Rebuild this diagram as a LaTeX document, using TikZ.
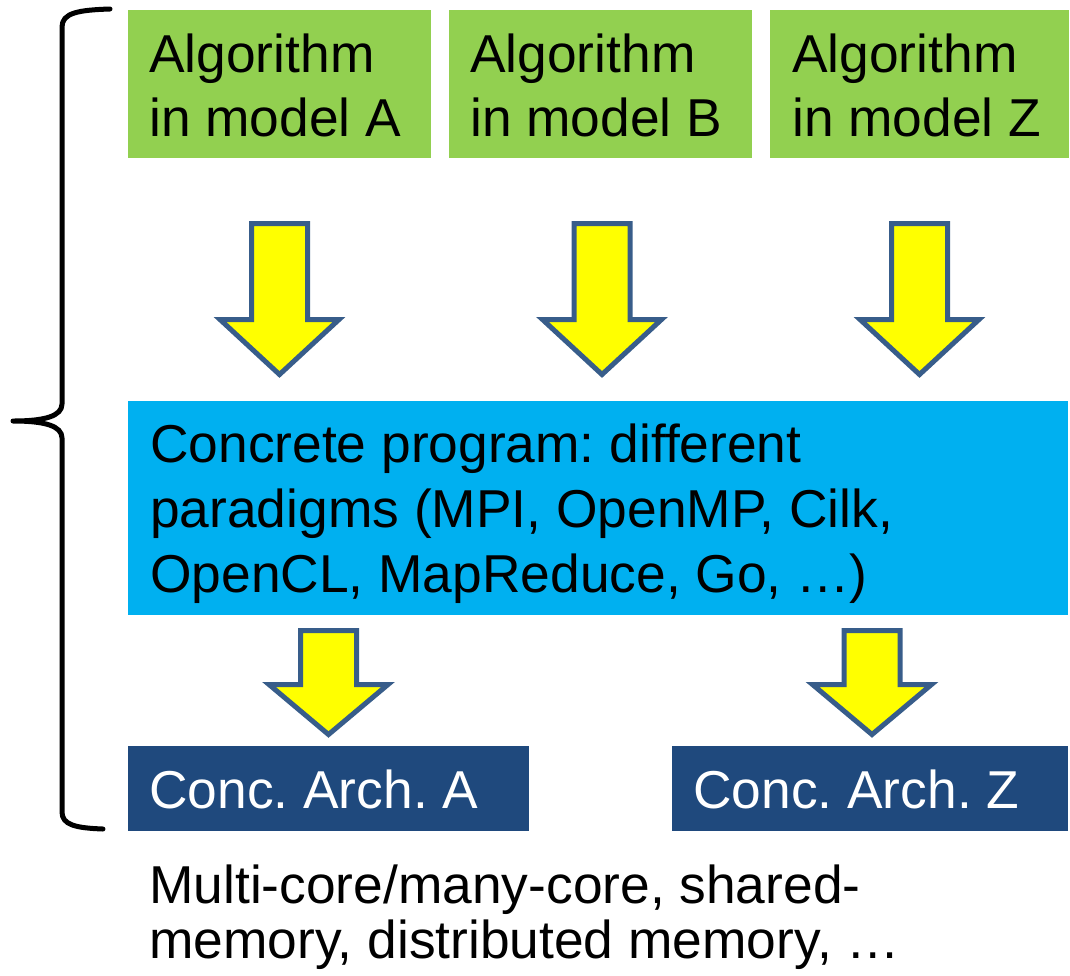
\documentclass[tikz,border=0pt]{standalone}
\usepackage{fontspec}
\setmainfont{Liberation Sans}
\frenchspacing
\usetikzlibrary{calc}
\definecolor{algo}{HTML}{92D050}
\definecolor{prog}{HTML}{00B0F0}
\definecolor{arch}{HTML}{1F497D}
\definecolor{arrfill}{HTML}{FFFF00}
\definecolor{arrline}{HTML}{385D8A}
\tikzset{
  box/.style={anchor=north west, inner sep=0pt, outer sep=0pt},
  algobox/.style={box, fill=algo, minimum width=227.25pt, minimum height=111pt},
  progbox/.style={box, fill=prog, minimum width=705pt, minimum height=160.5pt},
  archbox/.style={box, fill=arch, minimum height=63.75pt},
  txt/.style={anchor=base west, inner sep=0pt, align=left, font=\fontsize{40}{48}\selectfont},
  blk/.style={fill=arrfill, draw=arrline, line width=3.75pt, line join=miter},
  brace/.style={draw=black, line width=3.75pt, line cap=round, line join=round},
}
% block arrow: #1 top middle, #2 tip, #3 shaft length
\newcommand{\blockarrow}[3]{%
  \draw[blk] ($(#1)+(-28,0)$) -- ($(#1)+(28,0)$) -- ($(#1)+(28,#3)$) -- ($(#1)+(59.5,#3)$)
    -- (#2) -- ($(#1)+(-59.5,#3)$) -- ($(#1)+(-28,#3)$) -- cycle;
}

\begin{document}
\begin{tikzpicture}[x=0.75pt,y=-0.75pt]
  \useasboundingbox (0,0) rectangle (1070,975);
  % algorithms (base anchor sits on the last line)
  \node[algobox] (ga) at (128,10) {};
  \node[algobox] (gb) at (449,10) {};
  \node[algobox, minimum width=224.25pt] (gz) at (770,10) {};
  \node[txt] (ta) at ($(ga.north west)+(21,126)$) {Algorithm\\in model A};
  \node[txt] (tb) at ($(gb.north west)+(21,126)$) {Algorithm\\in model B};
  \node[txt] (tz) at ($(gz.north west)+(22,126)$) {Algorithm\\in model Z};
  % program
  \node[progbox] (prog) at (128,401) {};
  \node[txt, font=\fontsize{40}{48.75}\selectfont] (tp) at ($(prog.north west)+(22,191)$)
    {Concrete program: different\\paradigms (MPI, OpenMP, Cilk,\\OpenCL, MapReduce, Go, …)};
  % architectures
  \node[archbox, minimum width=300.75pt] (archA) at (128,746) {};
  \node[archbox, minimum width=297pt] (archZ) at (672,746) {};
  \node[txt, text=white] (tA) at ($(archA.north west)+(21,62)$) {Conc. Arch. A};
  \node[txt, text=white] (tZ) at ($(archZ.north west)+(21,62)$) {Conc. Arch. Z};
  \node[txt, font=\fontsize{40}{41.25}\selectfont] (note) at (149,958)
    {Multi-core/many-core, shared-\\memory, distributed memory, …};
  % big arrows
  \coordinate (a1t) at ($(ga.south)+(0,65.5)$);
  \coordinate (a1e) at ($(a1t |- prog.north)+(0,-26.5)$);
  \coordinate (a2t) at ($(gb.south)+(1.5,65.5)$);
  \coordinate (a2e) at ($(a2t |- prog.north)+(0,-26.5)$);
  \coordinate (a3t) at ($(gz.south)+(0,65.5)$);
  \coordinate (a3e) at ($(a3t |- prog.north)+(0,-26.5)$);
  \blockarrow{a1t}{a1e}{96}
  \blockarrow{a2t}{a2e}{96}
  \blockarrow{a3t}{a3e}{96}
  % small arrows
  \coordinate (a4e) at ($(archA.north)+(0,-11.5)$);
  \coordinate (a4t) at ($(a4e |- prog.south)+(0,15.5)$);
  \coordinate (a5e) at ($(archZ.north)+(2,-11.5)$);
  \coordinate (a5t) at ($(a5e |- prog.south)+(0,15.5)$);
  \blockarrow{a4t}{a4e}{54}
  \blockarrow{a5t}{a5e}{54}
  % brace
  \draw[brace] (110,9) .. controls (78,10) and (62,13) .. (62,27) -- (62,404)
    .. controls (62,416) and (45,421) .. (13,421)
    .. controls (45,421) and (62,426) .. (62,438) -- (62,812)
    .. controls (62,825) and (76,828) .. (103,829);
\end{tikzpicture}
\end{document}
